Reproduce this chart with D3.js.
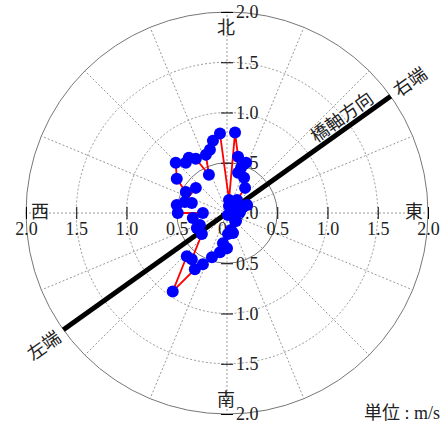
<!DOCTYPE html>
<html>
<head>
<meta charset="utf-8">
<script src="https://cdn.jsdelivr.net/npm/d3@7"></script>
<style>
  body { margin: 0; background: #fff; }
  .cjk { font-family: "Noto Sans CJK JP", sans-serif; font-size: 18px; fill: #222; }
</style>
</head>
<body>
<div id="chart"></div>
<script>
// east / north components (m/s), in drawing order
var east = [0.02, 0.06, 0.09, 0.04, 0.01, -0.04, 0.00, -0.07, -0.15, -0.24, -0.32, -0.54, -0.40, -0.35,
  -0.25, -0.30, -0.27, -0.34, -0.24, -0.49, -0.50, -0.35, -0.42, -0.31, -0.41, -0.50, -0.51, -0.41,
  -0.38, -0.31, -0.18, -0.21, -0.17, -0.14, -0.07, 0.02, 0.08, 0.11, 0.19, 0.14, 0.11, 0.17, 0.18,
  0.10, 0.16, 0.20, 0.13, 0.05, 0.01, 0.08, 0.06];
var north = [0.07, 0.00, -0.08, -0.17, -0.21, -0.30, -0.35, -0.39, -0.44, -0.51, -0.56, -0.78, -0.43, -0.46,
  -0.21, -0.15, -0.12, -0.05, 0.00, 0.00, 0.08, 0.10, 0.11, 0.25, 0.21, 0.34, 0.50, 0.50,
  0.55, 0.54, 0.38, 0.58, 0.63, 0.72, 0.79, 0.13, 0.80, 0.56, 0.50, 0.45, 0.40, 0.35, 0.25,
  0.13, 0.06, 0.08, 0.01, 0.05, -0.02, -0.08, -0.20];

var ringValues = [0.5, 1.0, 1.5, 2.0];
var tickValues = [-2, -1.5, -1, -0.5, 0, 0.5, 1, 1.5, 2];
var compass = [{name: "北", deg: 90}, {name: "南", deg: 270}, {name: "西", deg: 180}, {name: "東", deg: 0}];
var bridgeAngle = 35.5;   // degrees from east
var bridgeLabel = "橋軸方向";
var endLabels = ["右端", "左端"];
var unitLabel = "単位 : m/s";

var width = 445, height = 427;
var cx = 227, cy = 213, R = 201;
var serif = "'Liberation Serif', 'DejaVu Serif', serif";

var svg = d3.select("#chart").append("svg")
  .attr("width", width)
  .attr("height", height);

var x = d3.scaleLinear().domain([-2, 2]).range([cx - R, cx + R]);
var y = d3.scaleLinear().domain([-2, 2]).range([cy + R, cy - R]);
var r = d3.scaleLinear().domain([0, 2]).range([0, R]);

/* grid */
var grid = svg.append("g");
grid.selectAll("circle")
  .data(ringValues).enter()
  .append("circle")
  .attr("cx", cx).attr("cy", cy)
  .attr("r", d => r(d))
  .attr("fill", "none")
  .attr("stroke", d => (d == 0.5 || d == 2) ? "#777" : "#999")
  .attr("stroke-width", 1)
  .attr("stroke-dasharray", d => (d == 0.5 || d == 2) ? null : "2,2");

grid.selectAll("line")
  .data(d3.range(0, 360, 22.5)).enter()
  .append("line")
  .attr("x1", cx).attr("y1", cy)
  .attr("x2", d => cx + r(2) * Math.cos(d * Math.PI / 180))
  .attr("y2", d => cy - r(2) * Math.sin(d * Math.PI / 180))
  .attr("stroke", "#999")
  .attr("stroke-width", 1)
  .attr("stroke-dasharray", "2,2");

/* axes */
var fmtX = d => d == 0 ? "0" : Math.abs(d).toFixed(1);
var fmtY = d => Math.abs(d).toFixed(1);

var gx = svg.append("g")
  .attr("transform", `translate(0,${cy})`)
  .call(d3.axisBottom(x).tickValues(tickValues).tickFormat(fmtX).tickSize(6).tickPadding(3));
gx.select(".domain").remove();
gx.selectAll(".tick line").attr("y1", -6).attr("stroke", "#000");
gx.selectAll(".tick text").filter(d => d == 0).attr("dx", -5);

var gy = svg.append("g")
  .attr("transform", `translate(${cx},0)`)
  .call(d3.axisRight(y).tickValues(tickValues).tickFormat(fmtY).tickSize(6).tickPadding(3));
gy.select(".domain").remove();
gy.selectAll(".tick line").attr("x1", -6).attr("stroke", "#000");

gx.attr("font-family", serif).attr("font-size", 18);
gy.attr("font-family", serif).attr("font-size", 18);
svg.selectAll(".tick text").attr("fill", "#222");

/* compass labels */
var cpos = {"北": [cx - 1, 34], "南": [cx - 1, 406], "西": [40, 218], "東": [414, 218]};
svg.selectAll(".compass")
  .data(compass).enter()
  .append("text")
  .attr("class", "cjk compass")
  .attr("x", d => cpos[d.name][0])
  .attr("y", d => cpos[d.name][1])
  .attr("text-anchor", "middle")
  .text(d => d.name);

/* bridge axis */
var a = bridgeAngle * Math.PI / 180;
svg.append("line")
  .attr("x1", x(-2 * Math.cos(a))).attr("y1", y(-2 * Math.sin(a)))
  .attr("x2", x(2 * Math.cos(a))).attr("y2", y(2 * Math.sin(a)))
  .attr("stroke", "#000")
  .attr("stroke-width", 5);

function along(v) { return [x(v * Math.cos(a)), y(v * Math.sin(a))]; }

var p = along(1.485);
svg.append("text").attr("class", "cjk")
  .attr("transform", `translate(${p[0]},${p[1]}) rotate(${-bridgeAngle})`)
  .attr("text-anchor", "middle").attr("dy", -5)
  .text(bridgeLabel);

p = along(2.24);
svg.append("text").attr("class", "cjk")
  .attr("transform", `translate(${p[0]},${p[1]}) rotate(${-bridgeAngle})`)
  .attr("text-anchor", "middle").attr("dy", 6)
  .text(endLabels[0]);

p = along(-2.25);
svg.append("text").attr("class", "cjk")
  .attr("transform", `translate(${p[0]},${p[1]}) rotate(${-bridgeAngle})`)
  .attr("text-anchor", "middle").attr("dy", 8)
  .text(endLabels[1]);

/* data */
var pts = east.map((e, i) => [e, north[i]]);
svg.append("path")
  .datum(pts)
  .attr("d", d3.line().x(d => x(d[0])).y(d => y(d[1])))
  .attr("fill", "none")
  .attr("stroke", "#ff0000")
  .attr("stroke-width", 1.8);

svg.append("g").selectAll("circle")
  .data(pts).enter()
  .append("circle")
  .attr("cx", d => x(d[0]))
  .attr("cy", d => y(d[1]))
  .attr("r", 6)
  .attr("fill", "#0000ff");

/* unit */
svg.append("text")
  .attr("x", 440).attr("y", 419)
  .attr("text-anchor", "end")
  .style("font-family", "'Liberation Serif', 'Noto Sans CJK JP', serif")
  .style("font-size", "18px")
  .attr("fill", "#222")
  .text(unitLabel);
</script>
</body>
</html>
